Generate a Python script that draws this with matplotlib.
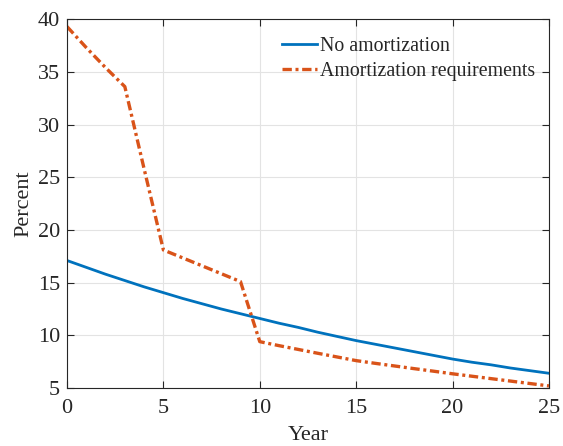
import matplotlib
matplotlib.use("Agg")
import matplotlib.pyplot as plt
import numpy as np

plt.rcParams.update({
    'font.family': ['Liberation Serif', 'DejaVu Serif'],
    'font.size': 14,
})

# data
years = np.arange(0, 26)
no_amort = [17.1, 16.45, 15.8, 15.2, 14.6, 14.05, 13.5, 13.0, 12.5, 12.05,
            11.6, 11.15, 10.75, 10.3, 9.9, 9.5, 9.15, 8.8, 8.45, 8.1,
            7.75, 7.45, 7.2, 6.9, 6.65, 6.4]
amort_req = [39.3, 37.3, 35.4, 33.6, 25.8, 18.1, 17.35, 16.6, 15.85, 15.1,
             9.4, 9.02, 8.66, 8.3, 7.95, 7.6, 7.34, 7.09, 6.84, 6.6,
             6.35, 6.12, 5.89, 5.66, 5.43, 5.2]
labels = ['No amortization', 'Amortization requirements']

BLUE = '#0072BD'
ORANGE = '#D95319'
AX_COLOR = '#262626'

fig = plt.figure(figsize=(5.63, 4.46), dpi=100)
ax = fig.add_axes([0.119, 0.130, 0.856, 0.827])

ax.plot(years, no_amort, color=BLUE, lw=2.0, label=labels[0])
ax.plot(years, amort_req, color=ORANGE, lw=2.4, label=labels[1],
        dashes=(2.8, 1.1, 0.9, 1.1))

ax.set_xlim(0, 25)
ax.set_ylim(5, 40)
ax.set_xticks(np.arange(0, 26, 5))
ax.set_yticks(np.arange(5, 41, 5))
ax.grid(True, color='#e3e3e3', lw=0.8)
ax.set_axisbelow(True)

for s in ax.spines.values():
    s.set_color(AX_COLOR)
    s.set_linewidth(0.8)
ax.tick_params(direction='in', length=5, width=0.8, color=AX_COLOR,
               top=True, right=True, labelsize=16, labelcolor=AX_COLOR)
ax.tick_params(axis='x', pad=8)
ax.tick_params(axis='y', pad=5)

ax.set_xlabel('Year', fontsize=16, color=AX_COLOR, labelpad=6)
ax.set_ylabel('Percent', fontsize=16, color=AX_COLOR, labelpad=3)

leg = ax.legend(loc='upper right', bbox_to_anchor=(1.008, 1.0), frameon=False,
                fontsize=14.3, handlelength=1.75, handletextpad=0.15,
                borderaxespad=0.5, labelspacing=0.29)
for t in leg.get_texts():
    t.set_color(AX_COLOR)

fig.savefig('out.png', dpi=100)
